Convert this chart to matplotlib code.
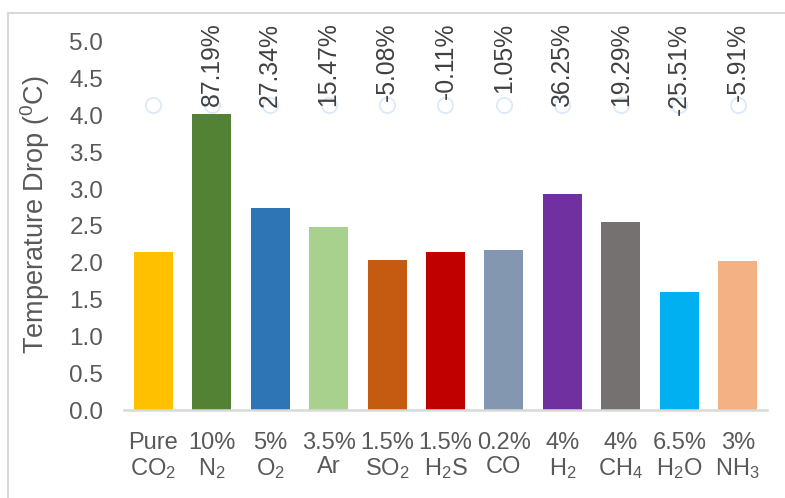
import matplotlib
matplotlib.use("Agg")
import matplotlib.pyplot as plt
from matplotlib.lines import Line2D

plt.rcParams['font.family'] = ['Liberation Sans', 'DejaVu Sans']
plt.rcParams['mathtext.fontset'] = 'custom'
plt.rcParams['mathtext.rm'] = 'Liberation Sans'
plt.rcParams['mathtext.it'] = 'Liberation Sans:italic'
plt.rcParams['mathtext.bf'] = 'Liberation Sans:bold'

# gas mixtures and measured temperature drop
categories = ['Pure\nCO$_2$', '10%\nN$_2$', '5%\nO$_2$', '3.5%\nAr', '1.5%\nSO$_2$',
              '1.5%\nH$_2$S', '0.2%\nCO', '4%\nH$_2$', '4%\nCH$_4$', '6.5%\nH$_2$O',
              '3%\nNH$_3$']
temp_drop = [2.15, 4.02, 2.74, 2.48, 2.04, 2.15, 2.17, 2.93, 2.56, 1.60, 2.02]
change_labels = ['', '87.19%', '27.34%', '15.47%', '-5.08%', '-0.11%', '1.05%',
                 '36.25%', '19.29%', '-25.51%', '-5.91%']
# helper series carrying the percentage labels
label_pos = [4.15, 4.15, 4.15, 4.15, 4.15, 4.15, 4.15, 4.15, 4.15, 4.15, 4.15]
bar_colors = ['#FFC000', '#548235', '#2E75B6', '#A9D18E', '#C55A11', '#C00000',
              '#8497B0', '#7030A0', '#767171', '#00B0F0', '#F4B183']

fig = plt.figure(figsize=(7.85, 4.98), dpi=100)
ax = fig.add_axes([0.158, 0.1767, 0.819, 0.739])

x = range(len(categories))
ax.bar(x, temp_drop, width=0.667, color=bar_colors, zorder=2)
ax.plot(x, label_pos, linestyle='none', marker='o', markersize=11,
        markerfacecolor='none', markeredgecolor='#dde9f6', markeredgewidth=1.3, zorder=3)
for i, txt in enumerate(change_labels):
    ax.annotate(txt, (i, label_pos[i]), xytext=(0, 82), textcoords='offset pixels',
                rotation=90, ha='center', va='top', fontsize=17.8, color='#404040')

ax.set_xlim(-0.5, len(categories) - 0.5)
ax.set_ylim(0, 5)
ax.set_yticks([0, 0.5, 1, 1.5, 2, 2.5, 3, 3.5, 4, 4.5, 5])
ax.set_yticklabels(['%.1f' % v for v in ax.get_yticks()])
ax.set_xticks(list(x))
ax.set_xticklabels(categories, linespacing=1.1)
ax.tick_params(axis='y', length=0, pad=15, labelsize=17.5, labelcolor='#595959')
ax.tick_params(axis='x', length=0, pad=16, labelsize=17, labelcolor='#595959')

for side in ['top', 'right', 'left']:
    ax.spines[side].set_visible(False)
ax.spines['bottom'].set_color('#d9d9d9')
ax.spines['bottom'].set_linewidth(1.8)

ax.set_ylabel('Temperature Drop ($^{0}$C)', fontsize=19.5, color='#595959')
ax.yaxis.set_label_coords(-0.112, 0.53)

# chart area border (top and left edges)
fig.add_artist(Line2D([0.0108, 1.0], [0.974, 0.974], color='#d9d9d9', linewidth=1.5))
fig.add_artist(Line2D([0.0108, 0.0108], [0.0, 0.974], color='#d9d9d9', linewidth=1.5))

fig.savefig('out.png', dpi=100)
